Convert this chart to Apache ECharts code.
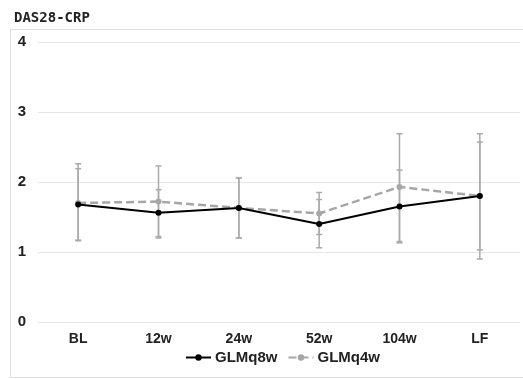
<!DOCTYPE html>
<html>
<head>
<meta charset="utf-8">
<script src="https://cdn.jsdelivr.net/npm/echarts@6/dist/echarts.min.js"></script>
<style>html,body{margin:0;padding:0;background:#fff;}#c{width:523px;height:379px;}</style>
</head>
<body>
<div id="c"></div>
<script>
const categories = ['BL', '12w', '24w', '52w', '104w', 'LF'];
const glm8Mean = [1.68, 1.56, 1.63, 1.40, 1.65, 1.80];
const glm8Low  = [1.16, 1.22, 1.20, 1.06, 1.13, 1.03];
const glm8High = [2.19, 1.89, 2.06, 1.75, 2.17, 2.57];
const glm4Mean = [1.70, 1.72, 1.63, 1.55, 1.93, 1.80];
const glm4Low  = [1.17, 1.20, 1.20, 1.25, 1.15, 0.90];
const glm4High = [2.26, 2.23, 2.06, 1.85, 2.69, 2.69];
const yTicks = [0, 1, 2, 3, 4];

function errData(lo, hi) { return categories.map((c, i) => [i, lo[i], hi[i]]); }
function errRender(params, api) {
  const x = api.value(0);
  const lo = api.coord([x, api.value(1)]);
  const hi = api.coord([x, api.value(2)]);
  const w = 3;
  const st = { stroke: '#aaaaaa', lineWidth: 1.5 };
  return { type: 'group', children: [
    { type: 'line', shape: { x1: lo[0], y1: lo[1], x2: hi[0], y2: hi[1] }, style: st },
    { type: 'line', shape: { x1: lo[0] - w, y1: lo[1], x2: lo[0] + w, y2: lo[1] }, style: st },
    { type: 'line', shape: { x1: hi[0] - w, y1: hi[1], x2: hi[0] + w, y2: hi[1] }, style: st }
  ]};
}

const chart = echarts.init(document.getElementById('c'), null, { renderer: 'canvas' });
chart.setOption({
  animation: false,
  backgroundColor: '#fff',
  title: {
    text: 'DAS28-CRP', left: 9, top: 6,
    textStyle: { fontFamily: 'DejaVu Sans Mono', fontSize: 14, fontWeight: 'bold', color: '#222' }
  },
  graphic: [{
    type: 'rect', shape: { x: 10.5, y: 29.5, width: 540, height: 348 },
    style: { fill: 'none', stroke: '#dddddd', lineWidth: 1 }, silent: true, z: -1
  }],
  grid: { left: 38, right: 3, top: 42, bottom: 57, containLabel: false },
  legend: {
    bottom: 9, left: 180, itemWidth: 25, itemHeight: 8, itemGap: 10,
    textStyle: { fontFamily: 'Liberation Sans', fontSize: 15, fontWeight: 'bold', color: '#222', padding: [0, 0, 0, -1] },
    data: ['GLMq8w', 'GLMq4w']
  },
  xAxis: {
    type: 'category', data: categories, boundaryGap: true,
    axisLine: { show: false }, axisTick: { show: false },
    axisLabel: { margin: 10, fontFamily: 'Liberation Sans', fontSize: 14, fontWeight: 'bold', color: '#222' }
  },
  yAxis: {
    type: 'value', min: yTicks[0], max: yTicks[yTicks.length - 1], interval: 1,
    axisLine: { show: false }, axisTick: { show: false },
    splitLine: { lineStyle: { color: '#e6e6e6', width: 1 } },
    axisLabel: { margin: 12, fontFamily: 'Liberation Sans', fontSize: 15, fontWeight: 'bold', color: '#222' }
  },
  series: [
    { type: 'custom', name: 'err8', renderItem: errRender, data: errData(glm8Low, glm8High), z: 1, silent: true },
    { type: 'custom', name: 'err4', renderItem: errRender, data: errData(glm4Low, glm4High), z: 1, silent: true },
    {
      type: 'line', name: 'GLMq4w', data: glm4Mean, z: 3,
      symbol: 'circle', symbolSize: 6,
      lineStyle: { color: '#a6a6a6', width: 2.5, type: [8, 4] },
      itemStyle: { color: '#a6a6a6' }
    },
    {
      type: 'line', name: 'GLMq8w', data: glm8Mean, z: 4,
      symbol: 'circle', symbolSize: 6,
      lineStyle: { color: '#000', width: 2 },
      itemStyle: { color: '#000' }
    }
  ]
});
</script>
</body>
</html>
